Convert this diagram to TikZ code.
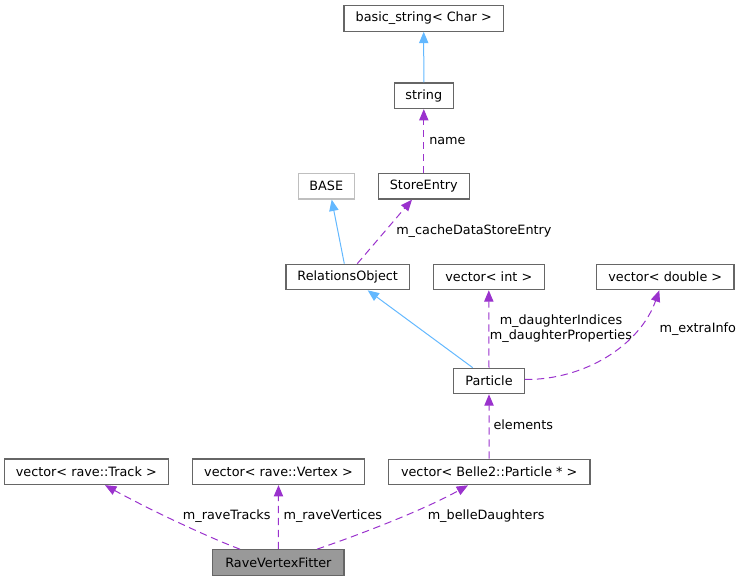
\documentclass[tikz,border=0pt]{standalone}
\usepackage{fontspec}
\setmainfont{DejaVu Sans}
\usetikzlibrary{arrows.meta,calc}
\definecolor{dpurple}{HTML}{9A32CD}
\definecolor{dblue}{HTML}{63B8FF}
\definecolor{dborder}{HTML}{666666}
\definecolor{dlight}{HTML}{BFBFBF}
\definecolor{dfill}{HTML}{999999}
\tikzset{
  cls/.style={draw=dborder, line width=0.9pt, fill=white, inner sep=0pt, minimum height=19.1pt, font=\fontsize{9.6}{11.5}\selectfont},
  lbl/.style={inner sep=0pt, anchor=west, font=\fontsize{9.6}{11.5}\selectfont},
  inh/.style={draw=dblue, line width=0.75pt, -{Triangle[length=8.5pt,width=7pt,fill=dblue]}},
  use/.style={draw=dpurple, line width=0.75pt, dash pattern=on 5.5pt off 3.5pt, -{Triangle[length=8.5pt,width=7pt,fill=dpurple]}}
}
\begin{document}
\begin{tikzpicture}[x=0.75pt,y=-0.75pt]
\useasboundingbox (0,0) rectangle (744,581);
\node[cls, minimum width=119.5pt] (bs) at (423.7,18.5) {basic\_string< Char >};
\node[cls, minimum width=44.25pt] (str) at (423.8,95.8) {string};
\node[cls, draw=dlight, minimum width=42pt] (base) at (326.3,186.3) {BASE};
\node[cls, minimum width=68.25pt] (se) at (423.8,186.3) {StoreEntry};
\node[cls, minimum width=92.5pt] (ro) at (347.7,277) {RelationsObject};
\node[cls, minimum width=83pt] (vi) at (488.8,277) {vector< int >};
\node[cls, minimum width=103pt] (vd) at (665.3,277) {vector< double >};
\node[cls, minimum width=53pt] (part) at (489,381) {Particle};
\node[cls, minimum width=123pt] (track) at (86.3,471.8) {vector< rave::Track >};
\node[cls, minimum width=128.7pt] (vertex) at (278.5,471.8) {vector< rave::Vertex >};
\node[cls, minimum width=151.3pt] (belle) at (489.2,472) {vector< Belle2::Particle * >};
\node[cls, fill=dfill, minimum width=98.5pt] (rave) at (278.4,562.5) {RaveVertexFitter};

\draw[inh] (str.north) -- (bs.south);
\draw[use] (se.north) -- (str.south);
\node[lbl] (lname) at (429,141) {name};
\draw[inh] ($(ro.north)+(-3.4,0)$) -- ($(base.south)+(5.4,0)$);
\draw[use] ($(ro.north)+(9.6,0)$) -- ($(se.south)+(-11.8,0)$);
\node[lbl] (lcache) at (396,230.7) {m\_cacheDataStoreEntry};
\draw[inh] ($(part.north)+(-16.3,0)$) -- ($(ro.south)+(20,0)$);
\draw[use] (part.north) -- (vi.south);
\node[inner sep=0pt, align=center, font=\fontsize{9.6}{11.5}\selectfont] (ldau) at (561,328.5) {m\_daughterIndices\\m\_daughterProperties};
\draw[use] ($(part.east)+(0,-1.5)$) .. controls (585,380) and (640,345) .. ($(vd.south)+(-6,0)$);
\node[lbl] (lextra) at (659.3,329) {m\_extraInfo};
\draw[use] (belle.north) -- (part.south);
\node[lbl] (lelem) at (493.3,425) {elements};
\draw[use] ($(rave.north)+(-38.4,0)$) .. controls (210,538) and (150,510) .. ($(track.south)+(18.7,0)$);
\node[lbl] (ltracks) at (182.7,516.5) {m\_raveTracks};
\draw[use] (rave.north) -- (vertex.south);
\node[lbl] (lvert) at (283.3,516.5) {m\_raveVertices};
\draw[use] ($(rave.north)+(38.6,0)$) .. controls (350,538) and (420,512) .. ($(belle.south)+(-21.2,0)$);
\node[lbl] (lbelle) at (427.5,516.5) {m\_belleDaughters};
\end{tikzpicture}
\end{document}
